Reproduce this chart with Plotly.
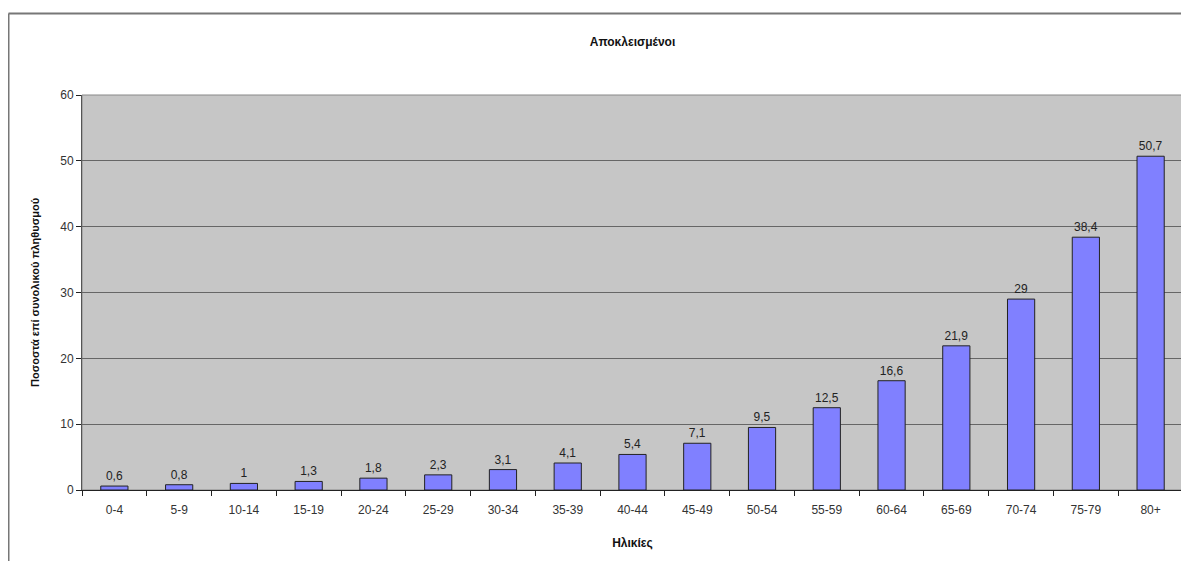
import plotly.graph_objects as go

categories = ["0-4", "5-9", "10-14", "15-19", "20-24", "25-29", "30-34", "35-39",
              "40-44", "45-49", "50-54", "55-59", "60-64", "65-69", "70-74", "75-79", "80+"]
values = [0.6, 0.8, 1, 1.3, 1.8, 2.3, 3.1, 4.1, 5.4, 7.1, 9.5, 12.5, 16.6, 21.9, 29, 38.4, 50.7]
labels = [str(v).replace(".", ",") for v in values]

title_text = "Αποκλεισμένοι"
x_title = "Ηλικίες"
y_title = "Ποσοστά επί συνολικού πληθυσμού"

# page body has an 8px margin; work in screen coordinates and shift
OFF = 8
SW, SH = 1189, 561
W, H = SW - OFF, SH - OFF
# plot area in screen coords
PL, PR, PT, PB = 82, 1183, 95, 490
L, R, T, B = PL - OFF, SW - PR, PT - OFF, SH - PB
pw, ph = PR - PL, PB - PT

def px(x):
    return (x - PL) / pw

def py(y):
    return (PB - y) / ph

fig = go.Figure()
fig.add_trace(go.Bar(
    x=categories, y=values, text=labels, textposition="outside",
    textfont=dict(family="Liberation Sans, Arial", size=12, color="#222"),
    marker=dict(color="#8080FF", line=dict(color="#222", width=1)),
    cliponaxis=False, width=0.42,
))

fig.update_layout(
    width=W, height=H,
    margin=dict(l=L, r=R, t=T, b=B),
    paper_bgcolor="white", plot_bgcolor="#C6C6C6",
    showlegend=False,
    font=dict(family="Liberation Sans, Arial", size=12, color="#222"),
    title=dict(text="<b>" + title_text + "</b>", x=0.5, xref="paper", xanchor="center",
               y=1 - (42 - OFF) / H, yanchor="middle",
               font=dict(size=12, color="#111")),
    xaxis=dict(
        showgrid=False, showline=True, linecolor="#222", linewidth=1,
        ticks="outside", ticklen=5, tickcolor="#222", tickson="boundaries",
        tickfont=dict(size=12, color="#333"), ticklabelstandoff=9,
        title=dict(text="<b>" + x_title + "</b>", font=dict(size=12, color="#111"), standoff=22),
        range=[-0.5, 16.5],
    ),
    yaxis=dict(
        range=[0, 60], dtick=10, showgrid=True, gridcolor="#666", gridwidth=1,
        showline=True, linecolor="#555", linewidth=1,
        ticks="outside", ticklen=5, tickcolor="#222",
        tickfont=dict(size=12, color="#333"),
        zeroline=False,
        title=dict(text="<b>" + y_title + "</b>", font=dict(size=11, color="#111"), standoff=18),
    ),
    bargap=0.58,
)

# outer frame (left and top border of the chart area)
fig.add_shape(type="line", xref="paper", yref="paper",
              x0=px(8.5), x1=px(8.5), y0=py(SH), y1=py(13.5),
              line=dict(color="#777", width=2))
fig.add_shape(type="line", xref="paper", yref="paper",
              x0=px(8.5), x1=px(SW), y0=py(13.5), y1=py(13.5),
              line=dict(color="#777", width=2))
# plot area outline
fig.add_shape(type="rect", xref="paper", yref="paper", x0=0, x1=1, y0=0, y1=1,
              line=dict(color="#888", width=1), layer="below")

fig.write_html("out.html")
